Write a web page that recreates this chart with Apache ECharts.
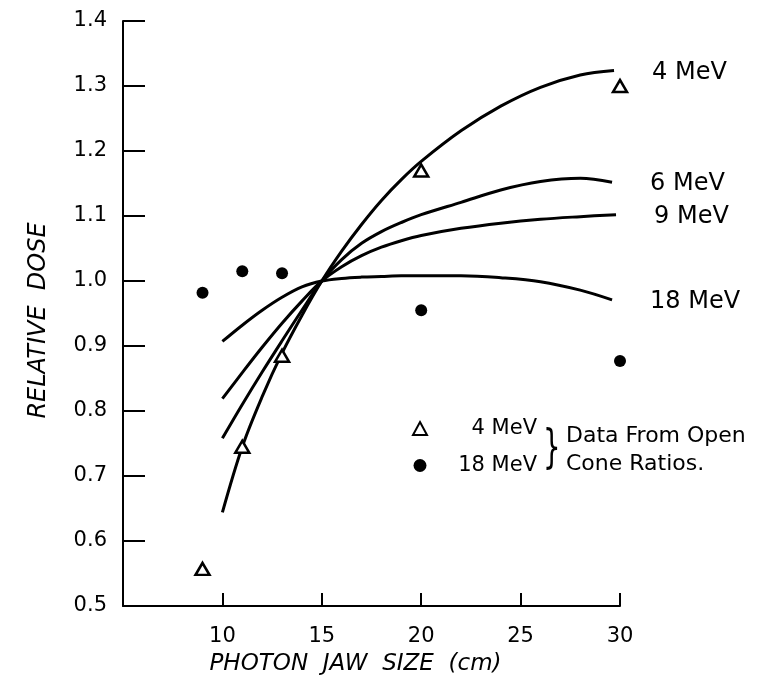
<!DOCTYPE html>
<html>
<head>
<meta charset="utf-8">
<script src="https://cdn.jsdelivr.net/npm/echarts@6/dist/echarts.min.js"></script>
<style>
  html, body { margin: 0; padding: 0; background: #fff; }
  #chart { width: 765px; height: 677px; }
</style>
</head>
<body>
<div id="chart"></div>
<script>
// fitted curves
const x4 = [10, 11, 12, 13, 14, 15, 16, 17, 18, 19, 20, 22, 24, 26, 28, 29.7]
const y4 = [0.644, 0.745, 0.822, 0.889, 0.947, 1.0, 1.046, 1.087, 1.124, 1.156, 1.184, 1.231, 1.269, 1.298, 1.317, 1.324]
const x6 = [10, 11, 12, 13, 14, 15, 16, 17, 18, 19, 20, 22, 24, 26, 28, 29.6]
const y6 = [0.758, 0.810, 0.860, 0.908, 0.955, 1.0, 1.033, 1.058, 1.076, 1.090, 1.102, 1.121, 1.140, 1.153, 1.158, 1.152]
const x9 = [10, 11, 12, 13, 14, 15, 16, 17, 18, 19, 20, 22, 24, 26, 28, 29.8]
const y9 = [0.819, 0.859, 0.898, 0.935, 0.969, 1.0, 1.022, 1.039, 1.052, 1.062, 1.070, 1.081, 1.089, 1.095, 1.099, 1.102]
const x18 = [10, 11, 12, 13, 14, 15, 16, 17, 18, 19, 20, 22, 24, 26, 28, 29.6]
const y18 = [0.907, 0.932, 0.955, 0.975, 0.991, 1.0, 1.004, 1.006, 1.007, 1.008, 1.008, 1.008, 1.005, 0.999, 0.986, 0.971]

// measured points (open cone ratios)
const jawPts = [9, 11, 13, 20, 30]
const tri4 = [0.557, 0.745, 0.885, 1.17, 1.30]
const jawDots = [9, 11, 13, 20, 30]
const dot18 = [0.982, 1.015, 1.012, 0.955, 0.877]

const xTicks = [10, 15, 20, 25, 30]

const pair = (xs, ys) => xs.map((x, i) => [x, ys[i]])
const FONT = 'DejaVu Sans'

const chart = echarts.init(document.getElementById('chart'))

function curve(label, xs, ys) {
    return {
        name: 'curve ' + label,
        type: 'line',
        data: pair(xs, ys),
        smooth: 0.35,
        showSymbol: false,
        silent: true,
        lineStyle: { color: '#000', width: 3 },
        endLabel: {
            show: true,
            formatter: label,
            distance: 38,
            offset: [0, 2],
            color: '#000',
            fontFamily: FONT,
            fontSize: 24
        },
        z: 2
    }
}

const option = {
    animation: false,
    backgroundColor: '#fff',
    grid: { left: 123, right: 145, top: 21, bottom: 71, outerBoundsMode: 'none' },
    xAxis: {
        type: 'value',
        min: 5,
        max: 30,
        interval: 5,
        name: 'PHOTON  JAW  SIZE  (cm)',
        nameLocation: 'middle',
        nameGap: 47,
        nameTextStyle: {
            fontFamily: FONT, fontSize: 23, fontStyle: 'italic', color: '#000',
            padding: [0, 32, 0, 0]
        },
        axisLine: { lineStyle: { color: '#000', width: 2 } },
        axisTick: { inside: true, length: 13, lineStyle: { color: '#000', width: 2 } },
        axisLabel: {
            margin: 20,
            fontFamily: FONT,
            fontSize: 21,
            color: '#000',
            formatter: v => xTicks.includes(v) ? String(v) : ''
        },
        splitLine: { show: false }
    },
    yAxis: {
        type: 'value',
        min: 0.5,
        max: 1.4,
        interval: 0.1,
        name: 'RELATIVE  DOSE',
        nameLocation: 'middle',
        nameGap: 72,
        nameTextStyle: {
            fontFamily: FONT, fontSize: 24, fontStyle: 'italic', color: '#000',
            padding: [0, 14, 0, 0]
        },
        axisLine: { lineStyle: { color: '#000', width: 2 } },
        axisTick: { inside: true, length: 22, lineStyle: { color: '#000', width: 2 } },
        axisLabel: {
            margin: 16,
            fontFamily: FONT,
            fontSize: 21,
            color: '#000',
            formatter: v => v.toFixed(1)
        },
        splitLine: { show: false }
    },
    legend: {
        data: ['4 MeV', '18 MeV'],
        orient: 'vertical',
        left: 407,
        top: 413,
        itemGap: 16,
        itemWidth: 14,
        itemHeight: 13,
        selectedMode: false,
        formatter: n => '{a|' + n + '}',
        textStyle: {
            rich: {
                a: { width: 105, align: 'right', lineHeight: 24, fontFamily: FONT, fontSize: 21, color: '#000' }
            }
        }
    },
    graphic: [
        {
            type: 'text',
            left: 543,
            top: 427,
            scaleX: 0.6,
            style: { text: '}', fontFamily: FONT, fontSize: 46, fill: '#000' }
        },
        {
            type: 'text',
            left: 566,
            top: 422,
            style: {
                text: 'Data From Open\nCone Ratios.',
                fontFamily: FONT,
                fontSize: 22,
                lineHeight: 28,
                fill: '#000'
            }
        }
    ],
    series: [
        curve('4 MeV', x4, y4),
        curve('6 MeV', x6, y6),
        curve('9 MeV', x9, y9),
        curve('18 MeV', x18, y18),
        {
            name: '4 MeV',
            type: 'scatter',
            data: pair(jawPts, tri4),
            symbol: 'triangle',
            symbolSize: [14, 12],
            itemStyle: { color: '#fff', borderColor: '#000', borderWidth: 2.5, opacity: 1 },
            z: 3
        },
        {
            name: '18 MeV',
            type: 'scatter',
            data: pair(jawDots, dot18),
            symbol: 'circle',
            symbolSize: 12,
            itemStyle: { color: '#000', opacity: 1 },
            z: 3
        }
    ]
}

chart.setOption(option)
</script>
</body>
</html>
